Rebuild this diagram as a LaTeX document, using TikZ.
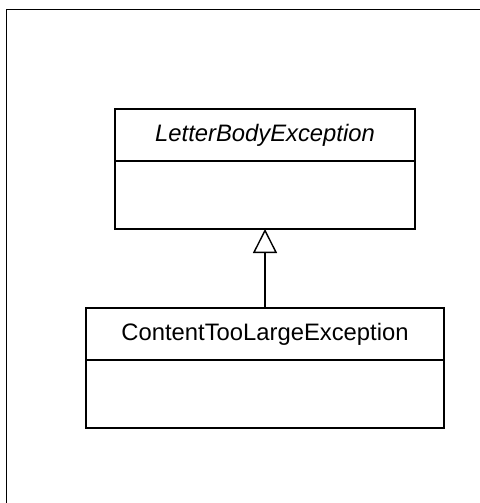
\documentclass[tikz,border=0pt]{standalone}
\usepackage{fontspec}
\setmainfont{Liberation Sans}
\usetikzlibrary{arrows.meta}
\begin{document}
\begin{tikzpicture}[x=1pt,y=-1pt,
  cls/.style={draw=black, line width=1.4pt, fill=white, inner sep=0pt, outer sep=0pt, font=\fontsize{23.8}{28}\selectfont},
  frameline/.style={draw=black, line width=1.4pt},
  inherit/.style={draw=black, line width=1.4pt, -{Triangle[open, length=24pt, width=24pt, line width=1.4pt]}}]
\useasboundingbox (0,0) rectangle (479,503);
\coordinate (fl) at (6.5,510);
\coordinate (fc) at (6.5,9.5);
\coordinate (fr) at (490,9.5);
\draw[frameline] (fl) -- (fc) -- (fr);
% upper class
\node[cls, minimum width=300pt, minimum height=52pt, anchor=north west] (ah) at (115,109) {\itshape LetterBodyException};
\node[cls, minimum width=300pt, minimum height=68pt, anchor=north] (ab) at (ah.south) {};
% lower class
\node[cls, minimum width=358pt, minimum height=52pt, anchor=north west] (bh) at (86,308) {ContentTooLargeException};
\node[cls, minimum width=358pt, minimum height=68pt, anchor=north] (bb) at (bh.south) {};
\draw[inherit] (bh.north) -- (ab.south);
\end{tikzpicture}
\end{document}
